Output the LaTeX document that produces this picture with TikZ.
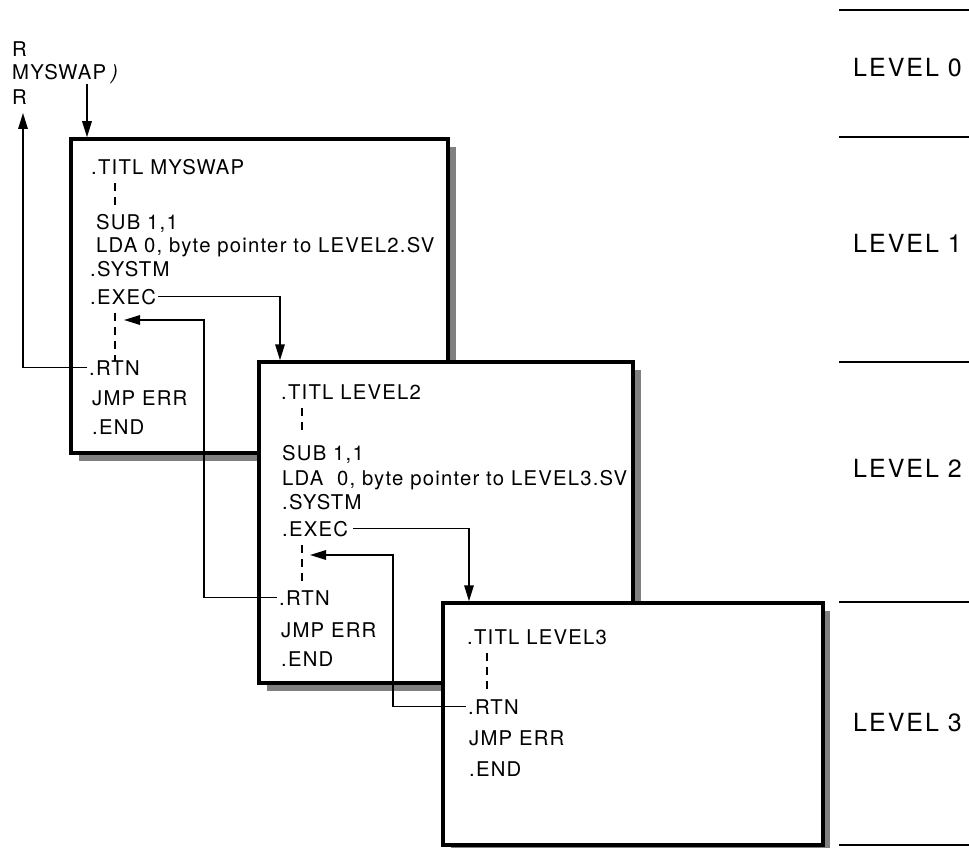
\documentclass[tikz,border=0pt]{standalone}
\usepackage{fontspec}
\setmainfont{TeX Gyre Heros}
\newfontfamily\codefont[LetterSpace=6]{TeX Gyre Heros}
\newfontfamily\levelfont[LetterSpace=8]{TeX Gyre Heros}
\usetikzlibrary{arrows.meta}
\begin{document}
\begin{tikzpicture}[x=1pt,y=-1pt,
  code/.style={anchor=base west, inner xsep=2pt, inner ysep=0pt,
    font=\codefont\fontsize{20.3}{24}\selectfont},
  lvl/.style={anchor=base west, inner sep=0pt,
    font=\levelfont\fontsize{25}{30}\selectfont},
  box/.style={draw, line width=3.5pt, fill=white, inner sep=0pt},
  shadowfill/.style={fill=black!50},
  arr/.style={line width=1.6pt, -{Triangle[length=16pt,width=9.5pt]}},
  dashv/.style={line width=1.6pt, dash pattern=on 8pt off 6pt},
  levline/.style={line width=2pt}]
\useasboundingbox (0,0) rectangle (969,848);

% level separators
\draw[levline] (839,10) -- (969,10);
\draw[levline] (839,137) -- (969,137);
\draw[levline] (839,362) -- (969,362);
\draw[levline] (839,602) -- (969,602);
\draw[levline] (839,845) -- (969,845);
\node[lvl] (lv0) at (853,77) {LEVEL 0};
\node[lvl] (lv1) at (853,252) {LEVEL 1};
\node[lvl] (lv2) at (853,477) {LEVEL 2};
\node[lvl] (lv3) at (853,731) {LEVEL 3};

% boxes with shadows
\fill[shadowfill] (79,147) rectangle (456,461);
\node[box, minimum width=377pt, minimum height=314pt] (box1) at (259.5,296) {};
\fill[shadowfill] (267,370) rectangle (641,691);
\node[box, minimum width=374pt, minimum height=321pt] (box2) at (446,522.5) {};
\fill[shadowfill] (451,611) rectangle (830,853);
\node[box, minimum width=380pt, minimum height=242pt] (box3) at (633,724) {};

% top-left labels
\node[code] (r1) at (10,57) {R};
\node[code] (mys) at (10,80) {MYSWAP\hspace{5pt}\textit{)}};
\node[code] (r2) at (10,105) {R};

% box 1 text
\node[code] (t1) at (89,175) {.TITL MYSWAP};
\node[code] (s1) at (94,229) {SUB 1,1};
\node[code] (l1) at (94,252) {LDA 0, byte pointer to LEVEL2.SV};
\node[code] (y1) at (88,276) {.SYSTM};
\node[code] (e1) at (88,304) {.EXEC};
\node[code] (rt1) at (87,375) {.RTN};
\node[code] (j1) at (90,405) {JMP ERR};
\node[code] (n1) at (90,434) {.END};
\draw[dashv] (115,183) -- (115,209);
\draw[dashv] (115,313) -- (115,361);

% box 2 text
\node[code] (t2) at (279,399) {.TITL LEVEL2};
\node[code] (s2) at (280,460) {SUB 1,1};
\node[code] (l2) at (280,485) {LDA\ \ 0, byte pointer to LEVEL3.SV};
\node[code] (y2) at (280,509) {.SYSTM};
\node[code] (e2) at (280,536) {.EXEC};
\node[code] (rt2) at (277,605) {.RTN};
\node[code] (j2) at (279,637) {JMP ERR};
\node[code] (n2) at (279,666) {.END};
\draw[dashv] (302,408) -- (302,434);
\draw[dashv] (302,545) -- (302,583);

% box 3 text
\node[code] (t3) at (465,644) {.TITL LEVEL3};
\node[code] (rt3) at (466,714) {.RTN};
\node[code] (j3) at (467,745) {JMP ERR};
\node[code] (n3) at (467,776) {.END};
\draw[dashv] (487,653) -- (487,691);

% connectors
\coordinate (din) at (87,84);
\draw[arr] (din) -- (din |- box1.north);
\coordinate (uptip) at (23,113);
\draw[arr] (rt1.west) -| (uptip);

\coordinate (k1) at (280,0);
\draw[arr] (e1.east) -| (k1 |- box2.north);
\coordinate (c1) at (204,320);
\coordinate (tip1) at (124,320);
\draw[arr] (rt2.west) -| (c1) -- (tip1);

\coordinate (k2) at (469,0);
\draw[arr] ([xshift=3pt]e2.east) -| (k2 |- box3.north);
\coordinate (c2) at (393,555);
\coordinate (tip2) at (310,555);
\draw[arr] (rt3.west) -| (c2) -- (tip2);
\end{tikzpicture}
\end{document}
